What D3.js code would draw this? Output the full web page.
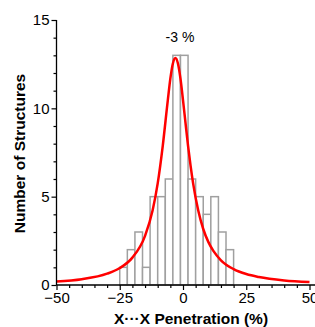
<!DOCTYPE html>
<html><head><meta charset="utf-8">
<script src="https://cdn.jsdelivr.net/npm/d3@7"></script>
<style>html,body{margin:0;padding:0;background:#fff;}svg{display:block;}</style>
</head><body>
<script>
// Histogram bins (lower edge, width 3) and counts
const binStarts = [-25,-22,-19,-16,-13,-10,-7,-4,-1,2,5,8,11,14,17];
const binWidth = 3;
const counts = [1,2,3,1,5,5,6,13,13,6,5,4,5,3,2];
// Fitted curve points
const curveX = [-50,-40,-30,-25,-20,-15,-12,-10,-8,-6,-5,-4,-3,-2,-1,0,1,2,3,4,6,8,10,12,15,20,25,30,40,50];
const curveY = [0.20,0.33,0.64,0.96,1.55,2.78,4.23,5.75,7.88,10.47,11.68,12.54,12.85,12.54,11.68,10.47,9.16,7.88,6.74,5.75,4.23,3.17,2.44,1.93,1.40,0.90,0.62,0.45,0.26,0.17];
const xTicks = [-50,-25,0,25,50];
const yTicks = [0,5,10,15];
const peakLabel = "-3 %";

const W=315,H=327;
const svg=d3.select("body").append("svg").attr("width",W).attr("height",H);
const x=d3.scaleLinear().domain([-50,50]).range([56.5,309.5]);
const y=d3.scaleLinear().domain([0,15]).range([285,20]);
const font="'Liberation Sans', Arial, Helvetica, sans-serif";

// bars
svg.append("g").selectAll("rect").data(binStarts).join("rect")
  .attr("x",(d)=>x(d)).attr("width",(d)=>x(d+binWidth)-x(d))
  .attr("y",(d,i)=>y(counts[i])).attr("height",(d,i)=>y(0)-y(counts[i]))
  .attr("fill","#fff").attr("stroke","#a0a0a0").attr("stroke-width",1.5);

// curve
const pts=curveX.map((d,i)=>[d,curveY[i]]);
svg.append("path").datum(pts)
  .attr("d",d3.line().x(d=>x(d[0])).y(d=>y(d[1])).curve(d3.curveMonotoneX))
  .attr("fill","none").attr("stroke","#f00").attr("stroke-width",2.5);

// x axis
const gx=svg.append("g").attr("transform",`translate(0,${y(0)})`);
gx.call(d3.axisBottom(x).tickValues(xTicks).tickSize(5).tickPadding(2).tickFormat(d3.format("d")));
gx.append("g").call(d3.axisBottom(x).tickValues(d3.range(-45,50,5).filter(v=>v%25!==0)).tickSize(3).tickFormat(""))
  .select(".domain").remove();
gx.select(".domain").attr("d",`M${x(-50)},0H315`);
// y axis
const gy=svg.append("g").attr("transform",`translate(${x(-50)},0)`);
gy.call(d3.axisLeft(y).tickValues(yTicks).tickSize(5).tickPadding(2).tickFormat(d3.format("d")));
gy.append("g").call(d3.axisLeft(y).tickValues(d3.range(1,15).filter(v=>v%5!==0)).tickSize(3).tickFormat(""))
  .select(".domain").remove();
gy.select(".domain").attr("d",`M0,${y(15)}V${y(0)}`);
svg.selectAll(".domain").attr("stroke","#000").attr("stroke-width",1.3);
svg.selectAll(".tick line").attr("stroke","#000").attr("stroke-width",1.2);
svg.selectAll(".tick text").attr("font-family",font).attr("font-size",15).attr("fill","#000");

// titles
svg.append("text").attr("x",191).attr("y",324).attr("text-anchor","middle")
  .attr("font-family",font).attr("font-weight","bold").attr("font-size",15.5).text("X\u00B7\u00B7\u00B7X Penetration (%)");
svg.append("text").attr("transform",`translate(25,${(y(0)+y(15))/2+1}) rotate(-90)`).attr("text-anchor","middle")
  .attr("font-family",font).attr("font-weight","bold").attr("font-size",15.5).text("Number of Structures");
svg.append("text").attr("x",180).attr("y",42).attr("text-anchor","middle")
  .attr("font-family",font).attr("font-size",14).text(peakLabel);
</script>
</body></html>
